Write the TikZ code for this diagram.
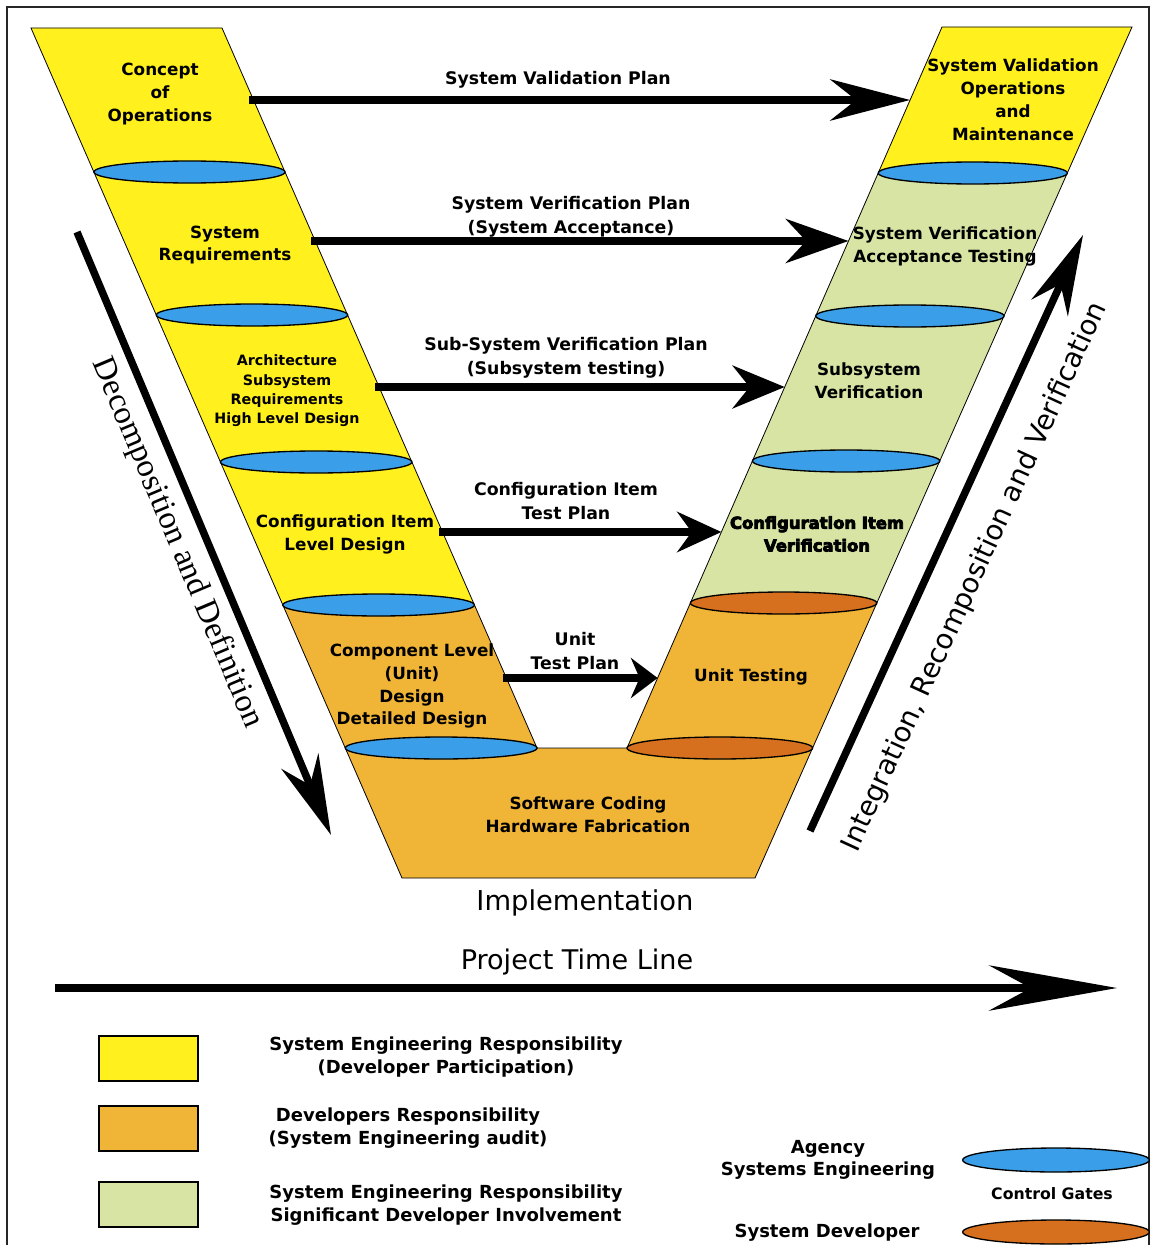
\documentclass[tikz,border=0pt]{standalone}
\usepackage{fontspec}
\setmainfont{DejaVu Sans}
\newfontfamily\decofont{Liberation Serif}
\newfontfamily\heavyfont{DejaVu Sans}[BoldFeatures={FakeBold=5}]
\usetikzlibrary{arrows.meta,shapes.geometric}
\definecolor{vyellow}{RGB}{255,240,30}
\definecolor{vorange}{RGB}{240,180,55}
\definecolor{vgreen}{RGB}{216,228,164}
\definecolor{gblue}{RGB}{58,158,232}
\definecolor{gorange}{RGB}{215,112,30}
\newcommand\vmbox{\bfseries\fontsize{12.6pt}{17.2pt}\selectfont}
\newcommand\vmheavy{\heavyfont\bfseries\fontsize{12.3pt}{17pt}\selectfont}
\newcommand\vmarch{\bfseries\fontsize{10.7pt}{14.5pt}\selectfont}
\newcommand\vmarr{\bfseries\fontsize{13pt}{18.4pt}\selectfont}
\newcommand\vmleg{\bfseries\fontsize{13.5pt}{16.9pt}\selectfont}
\newcommand\vmsmall{\bfseries\fontsize{11.8pt}{15pt}\selectfont}
\tikzset{
  frameline/.style={line width=1.5pt, draw=black!85},
  armedge/.style={draw=black, line width=0.6pt, line join=miter},
  gateshape/.style={ellipse, draw=black, line width=1pt, inner sep=0pt, minimum height=16.5pt},
  agate/.style={gateshape, fill=gblue},
  dgate/.style={gateshape, fill=gorange},
  boxlbl/.style={font=\vmbox, align=center, inner sep=0pt},
  heavylbl/.style={font=\vmheavy, align=center, inner sep=0pt},
  archlbl/.style={font=\vmarch, align=center, inner sep=0pt},
  arrlbl/.style={font=\vmarr, align=center, inner sep=0pt},
  leglbl/.style={font=\vmleg, align=center, inner sep=0pt},
  gatelbl/.style={font=\vmsmall, align=center, inner sep=0pt},
  biglbl/.style={font=\fontsize{20.5pt}{24pt}\selectfont, inner sep=0pt},
  tllbl/.style={font=\fontsize{20.3pt}{24pt}\selectfont, inner sep=0pt},
  decolbl/.style={font=\decofont\fontsize{24.5pt}{28pt}\selectfont, inner sep=0pt},
  intlbl/.style={font=\fontsize{20.8pt}{24pt}\selectfont, inner sep=0pt},
  bigarrow/.style={draw=black, line width=5.6pt},
  swatch/.style={draw=black, line width=1.1pt, minimum width=74.25pt, minimum height=33.75pt, inner sep=0pt},
  leggate/.style={ellipse, draw=black, line width=1pt, inner sep=0pt, minimum width=140pt, minimum height=18pt}
}
\begin{document}
\begin{tikzpicture}[x=0.75pt, y=-0.75pt]
\useasboundingbox (0,0) rectangle (1152,1245);
\fill[white] (0,0) rectangle (1152,1245);
\draw[frameline] (7,1245) -- (7,7) -- (1149,7) -- (1149,1245);

% --- V shape fills ---
\fill[vyellow] (31,28) -- (222,28) -- (474.4,605) -- (282.8,605) -- cycle;
\fill[vorange] (282.8,605) -- (474.4,605) -- (537,748) -- (345.3,748) -- cycle;
\fill[vorange] (345.3,748) -- (812.6,748) -- (755,878) -- (402,878) -- cycle;
\fill[vyellow] (942,27) -- (1132,27) -- (1067.3,173) -- (878.2,173) -- cycle;
\fill[vgreen] (878.2,173) -- (1067.3,173) -- (876.8,603) -- (690.4,603) -- cycle;
\fill[vorange] (690.4,603) -- (876.8,603) -- (812.6,748) -- (627,748) -- cycle;
\draw[armedge] (31,28) -- (222,28) -- (537,748) -- (627,748) -- (942,27) -- (1132,27)
  -- (755,878) -- (402,878) -- cycle;

% --- control gates ---
\node[agate, minimum width=143.3pt] (gl1) at (189.5,172) {};
\node[agate, minimum width=143.5pt] (gl2) at (252.0,315) {};
\node[agate, minimum width=143.6pt] (gl3) at (316.2,462) {};
\node[agate, minimum width=143.7pt] (gl4) at (378.6,605) {};
\node[agate, minimum width=143.8pt] (gl5) at (441.2,748) {};
\node[agate, minimum width=141.8pt] (gr1) at (972.8,173) {};
\node[agate, minimum width=141.2pt] (gr2) at (909.9,316) {};
\node[agate, minimum width=140.5pt] (gr3) at (846.1,461) {};
\node[dgate, minimum width=139.8pt] (gr4) at (783.6,603) {};
\node[dgate, minimum width=139.2pt] (gr5) at (719.8,748) {};

% --- section labels ---
\node[boxlbl] (t1) at (160,94) {Concept\\of\\Operations};
\node[boxlbl] (t2) at (225,245) {System\\Requirements};
\node[archlbl] (t3) at (287,391) {Architecture\\Subsystem\\Requirements\\High Level Design};
\node[boxlbl] (t4) at (345,534) {Configuration Item\\Level Design};
\node[boxlbl] (t5) at (412,686) {Component Level\\(Unit)\\Design\\Detailed Design};
\node[boxlbl] (t6) at (588,815) {Software Coding\\Hardware Fabrication};
\node[boxlbl] (r1) at (1013,100) {System Validation\\Operations\\and\\Maintenance};
\node[boxlbl] (r2) at (945,246) {System Verification\\Acceptance Testing};
\node[boxlbl] (r3) at (869,381) {Subsystem\\Verification};
\node[heavylbl] (r4) at (817,534) {Configuration Item\\Verification};
\node[boxlbl] (r5) at (751,677) {Unit Testing};

% --- horizontal plan arrows ---
\coordinate (a1l) at (249,100);  \coordinate (a1r) at (910.1,100);
\coordinate (a2l) at (311,241);  \coordinate (a2r) at (848.5,241);
\coordinate (a3l) at (375,387);  \coordinate (a3r) at (784.7,387);
\coordinate (a4l) at (439,532);  \coordinate (a4r) at (721.4,532);
\coordinate (a5l) at (503,678);  \coordinate (a5r) at (657.6,678);
\draw[bigarrow, -{Stealth[length=60pt, width=31pt]}] (a1l) -- (a1r);
\draw[bigarrow, -{Stealth[length=47pt, width=33pt]}] (a2l) -- (a2r);
\draw[bigarrow, -{Stealth[length=39pt, width=32pt]}] (a3l) -- (a3r);
\draw[bigarrow, -{Stealth[length=33pt, width=30pt]}] (a4l) -- (a4r);
\draw[bigarrow, -{Stealth[length=20pt, width=30pt]}] (a5l) -- (a5r);
\node[arrlbl] (p1) at (558,80) {System Validation Plan};
\node[arrlbl] (p2) at (571,217) {System Verification Plan\\(System Acceptance)};
\node[arrlbl] (p3) at (566,358) {Sub-System Verification Plan\\(Subsystem testing)};
\node[arrlbl] (p4) at (566,501) {Configuration Item\\Test Plan};
\node[arrlbl] (p5) at (575,651) {Unit\\Test Plan};

% --- diagonal arrows ---
\coordinate (dd1) at (77,232); \coordinate (dd2) at (331,835);
\draw[bigarrow, -{Stealth[length=60pt, width=30pt]}] (dd1) -- (dd2);
\node[decolbl, rotate=-67.2] (ddl) at (177,543) {Decomposition and Definition};
\coordinate (iv1) at (810,831); \coordinate (iv2) at (1083,235);
\draw[bigarrow, -{Stealth[length=60pt, width=30pt]}] (iv1) -- (iv2);
\node[intlbl, rotate=65.4] (ivl) at (975,577) {Integration, Recomposition and Verification};

% --- implementation and time line ---
\node[biglbl] (impl) at (585,903) {Implementation};
\coordinate (tl1) at (55,988); \coordinate (tl2) at (1117,988);
\draw[bigarrow, -{Stealth[length=96pt, width=34pt]}] (tl1) -- (tl2);
\node[tllbl] (tll) at (577,962) {Project Time Line};

% --- legend ---
\node[swatch, fill=vyellow] (sw1) at (148.5,1058.5) {};
\node[swatch, fill=vorange] (sw2) at (148.5,1128.5) {};
\node[swatch, fill=vgreen] (sw3) at (148.5,1204.5) {};
\node[leglbl] (lg1) at (446,1057) {System Engineering Responsibility\\(Developer Participation)};
\node[leglbl] (lg2) at (408,1128) {Developers Responsibility\\(System Engineering audit)};
\node[leglbl] (lg3) at (446,1205) {System Engineering Responsibility\\Significant Developer Involvement};
\node[leglbl] (lga) at (828,1160) {Agency\\Systems Engineering};
\node[leggate, fill=gblue] (lge1) at (1056,1160) {};
\node[gatelbl] (lgc) at (1052,1194) {Control Gates};
\node[leglbl] (lgd) at (827,1233) {System Developer};
\node[leggate, fill=gorange] (lge2) at (1056,1232) {};
\end{tikzpicture}
\end{document}
